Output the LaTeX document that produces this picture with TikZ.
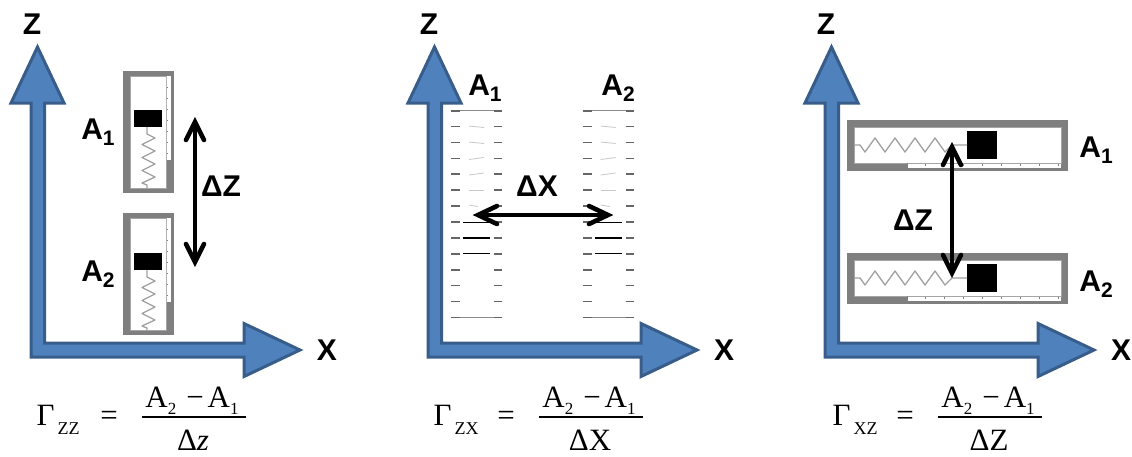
\documentclass[tikz,border=0pt]{standalone}
\usepackage{fontspec}
\setmainfont{Liberation Sans}
\newfontfamily\serifface{Liberation Serif}
\definecolor{axisfill}{HTML}{4F81BD}
\definecolor{axisline}{HTML}{385D8A}
\definecolor{frameg}{HTML}{7F7F7F}
\definecolor{springg}{HTML}{A0A0A0}
\tikzset{
  axisshape/.style={fill=axisfill,draw=axisline,line width=3pt,miter limit=10},
  bigtext/.style={font=\bfseries\fontsize{30}{30}\selectfont,inner sep=0pt,text=black},
  formula/.style={font=\serifface\fontsize{31}{31}\selectfont,inner sep=0pt,text=black},
  dblarrow/.style={line width=4.6pt},
  barb/.style={line width=4.6pt,line cap=round,line join=miter},
  framebox/.style={fill=frameg,draw=none},
  innerbox/.style={fill=white,draw=frameg!70!white,line width=.7pt},
  blockfill/.style={fill=black,draw=none},
  springline/.style={draw=springg,line width=1.3pt,line join=round},
  dashmark/.style={draw=black!60,line width=1.7pt},
  faint/.style={draw=black!22,line width=.8pt},
  fracbar/.style={draw=black,line width=1.2pt}
}
\newcommand{\subA}[1]{A\raisebox{-6pt}{\fontsize{21}{21}\selectfont #1}}
\newcommand{\subS}[1]{\raisebox{-7pt}{\fontsize{17}{17}\selectfont #1}}
\newcommand{\subG}[1]{\raisebox{-9pt}{\fontsize{18}{18}\selectfont #1}}
% axes: #1 = x offset, #2 = name
\newcommand{\axesat}[2]{%
  \draw[axisshape] (#1+37.5,47) -- (#1+64,103) -- (#1+44.5,103) -- (#1+44.5,343) -- (#1+244,343)
     -- (#1+244,323.5) -- (#1+300,350) -- (#1+244,376.5) -- (#1+244,357) -- (#1+31,357) -- (#1+31,103)
     -- (#1+11,103) -- cycle;
  \node[bigtext] (z#2) at (#1+32,24) {Z};
  \node[bigtext] (x#2) at (#1+327,350) {X};
}
% vertical sensor
\newcommand{\vsensor}[2]{%
  \fill[framebox] (123,#1) rectangle (174,#1+122);
  \draw[innerbox] (130,#1+5) rectangle (166,#1+117);
  \fill[white] (166.5,#1+5) rectangle (171,#1+89);
  \draw[frameg!60!white,line width=.5pt] (166.5,#1+5) -- (166.5,#1+89);
  \foreach \t in {11,22,33,44,55,66,77}{\fill[frameg] (167,#1+5+\t) rectangle (168,#1+6+\t);}
  \fill[blockfill] (134,#1+#2) rectangle (162,#1+#2+17);
  \draw[springline] (147,#1+#2+17) -- (147,#1+#2+24) -- (155,#1+#2+28) -- (142,#1+#2+34.5) -- (155,#1+#2+41)
    -- (142,#1+#2+47.5) -- (155,#1+#2+54) -- (142,#1+#2+60.5) -- (155,#1+#2+67) -- (142,#1+#2+73) -- (147,#1+#2+75) -- (147,#1+117);
}
% horizontal sensor
\newcommand{\hsensor}[1]{%
  \fill[framebox] (847,#1) rectangle (1068,#1+51);
  \draw[innerbox] (854,#1+7) rectangle (1061,#1+43);
  \fill[white] (907,#1+44) rectangle (1061,#1+48);
  \foreach \t in {0,19,38,57,76,95,114,133}{\fill[frameg] (925+\t,#1+44) rectangle (926+\t,#1+46);}
  \draw[frameg,line width=.6pt] (907,#1+43) -- (907,#1+48);
  \fill[blockfill] (967,#1+11) rectangle (997,#1+39);
  \draw[springline] (854,#1+25) -- (860,#1+25) -- (865,#1+32) -- (875,#1+18) -- (885,#1+32) -- (895,#1+18)
    -- (905,#1+32) -- (915,#1+18) -- (925,#1+32) -- (935,#1+18) -- (945,#1+32) -- (952,#1+25) -- (967,#1+25);
}
% dashed sensor
\newcommand{\dsensor}[1]{%
  \draw[black!45,line width=.8pt] (#1+460,110.5) -- (#1+494,110.5);
  \draw[black!45,line width=.9pt] (#1+460,317) -- (#1+494,317);
  \foreach \i in {0,...,13}{
    \draw[dashmark] (#1+451,110.7+15.9*\i) -- (#1+460,110.7+15.9*\i);
    \draw[dashmark] (#1+494,110.7+15.9*\i) -- (#1+502,110.7+15.9*\i);
  }
  \draw[faint] (#1+469,126) -- (#1+484,127.5);
  \draw[faint] (#1+469,142) -- (#1+484,143.5);
  \draw[faint] (#1+469,159.5) -- (#1+484,157.5);
  \draw[faint] (#1+469,175) -- (#1+484,173);
  \draw[faint] (#1+469,190.5) -- (#1+484,190.5);
  \draw[faint] (#1+469,205) -- (#1+478,206.5);
  \draw[black,line width=1pt] (#1+463,222.5) -- (#1+490,222.5);
  \draw[black,line width=2.4pt] (#1+463,238) -- (#1+490,238);
  \draw[black,line width=1pt] (#1+463,253.5) -- (#1+490,253.5);
}
% formula: #1 offset, #2 subscript, #3 denominator, #4 name
\newcommand{\formulaat}[4]{%
  \node[formula,anchor=base west] (g#4) at (#1+36.5,425) {Γ\kern3pt\subG{#2}};
  \node[formula,anchor=base] (e#4) at (#1+109,425) {=};
  \node[formula,anchor=base] (n#4) at (#1+192,407) {A\subS{2}\kern10pt−\kern4pt A\subS{1}};
  \coordinate (l#4) at (#1+142,417);
  \coordinate (r#4) at (#1+246,417);
  \draw[fracbar] (l#4) -- (r#4);
  \node[formula,anchor=base] (d#4) at (#1+193,450) {#3};
}
\begin{document}
\begin{tikzpicture}[x=1pt,y=-1pt]
\useasboundingbox (0,0) rectangle (1132,456);
\axesat{0}{a}
\axesat{397}{b}
\axesat{794}{c}
% panel 1
\vsensor{71}{39}
\vsensor{213}{40}
\node[bigtext] (a1a) at (98,132) {\subA{1}};
\node[bigtext] (a2a) at (98,274) {\subA{2}};
\coordinate (dza) at (195,122);
\coordinate (dzb) at (195,262);
\draw[dblarrow] (dza) -- (dzb);
\draw[barb] (186,140) -- (dza) -- (204,140);
\draw[barb] (186,244) -- (dzb) -- (204,244);
\node[bigtext] (dzl) at (221,186) {ΔZ};
% panel 2
\dsensor{0}
\dsensor{131.7}
\node[bigtext] (a1b) at (485,88) {\subA{1}};
\node[bigtext] (a2b) at (618,88) {\subA{2}};
\coordinate (dxa) at (478,215);
\coordinate (dxb) at (608,215);
\draw[dblarrow] (dxa) -- (dxb);
\draw[barb] (497,206) -- (dxa) -- (497,224);
\draw[barb] (589,206) -- (dxb) -- (589,224);
\node[bigtext] (dxl) at (537,186) {ΔX};
% panel 3
\hsensor{120}
\hsensor{253}
\node[bigtext] (a1c) at (1096,150) {\subA{1}};
\node[bigtext] (a2c) at (1096,284) {\subA{2}};
\coordinate (dzc) at (952,147);
\coordinate (dzd) at (952,273);
\draw[dblarrow] (dzc) -- (dzd);
\draw[barb] (943,165) -- (dzc) -- (961,165);
\draw[barb] (943,255) -- (dzd) -- (961,255);
\node[bigtext] (dzm) at (913,220) {ΔZ};
% formulas
\formulaat{0}{ZZ}{Δ\textit{z}}{a}
\formulaat{397}{ZX}{ΔX}{b}
\formulaat{796}{XZ}{ΔZ}{c}
\end{tikzpicture}
\end{document}
